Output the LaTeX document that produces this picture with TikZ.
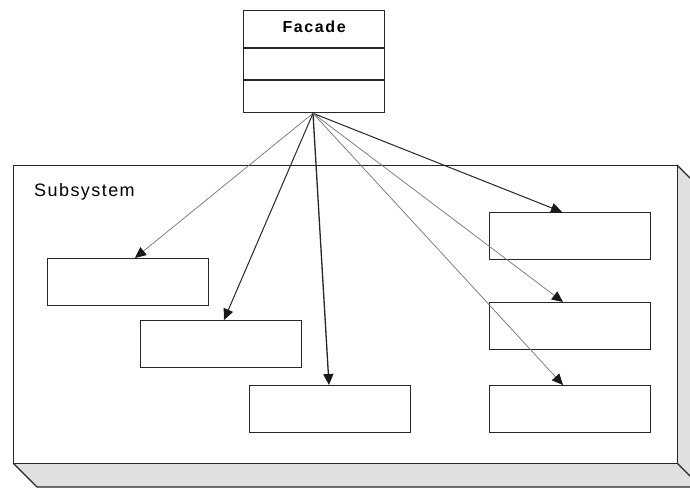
\documentclass[tikz,border=0pt]{standalone}
\usepackage{fontspec}
\setmainfont{Liberation Sans}
\usetikzlibrary{arrows.meta}
\begin{document}
\begin{tikzpicture}[x=1pt,y=-1pt,
  edge/.style={draw=black!85, line width=1.3pt},
  part/.style={edge, minimum width=161pt, minimum height=47pt, anchor=north west, inner sep=0pt},
  link/.style={draw=black!85, line width=1pt,
    -{Triangle[length=11pt,width=10pt,color=black!90]}},
  faint/.style={link, draw=black!55, line width=0.7pt}]
\useasboundingbox (0,0) rectangle (690,489);
\clip (0,0) rectangle (690,489);

% package body: side and bottom faces
\fill[black!12] (677,165) -- (701,189) -- (701,487) -- (677,463) -- cycle;
\fill[black!12] (13,463) -- (37,487) -- (701,487) -- (677,463) -- cycle;
\draw[edge] (13,463) -- (37,487) -- (701,487);
\draw[edge] (677,463) -- (701,487);
\draw[edge] (677,165) -- (701,189);
\node[edge, fill=white, minimum width=664pt, minimum height=298pt,
      anchor=north west, inner sep=0pt] (sub) at (13,165) {};
\node[anchor=west, inner sep=0pt,
      font=\fontsize{18}{20}\selectfont\addfontfeatures{LetterSpace=8}]
  (subname) at (34,192) {Subsystem};

% facade class
\node[edge, minimum width=141pt, minimum height=102pt, anchor=north west,
      inner sep=0pt] (facade) at (243,10) {};
\draw[edge] ([yshift=-38pt]facade.north west) -- ([yshift=-38pt]facade.north east);
\draw[edge] ([yshift=-70pt]facade.north west) -- ([yshift=-70pt]facade.north east);
\node[inner sep=0pt,
      font=\fontsize{16}{18}\selectfont\bfseries\addfontfeatures{LetterSpace=10}]
  (facadename) at ([yshift=-17pt]facade.north) {Facade};
\coordinate (src) at ([xshift=70pt]facade.south west);

% subsystem classes
\node[part] (a) at (47,258) {};
\node[part] (b) at (140,320) {};
\node[part] (c) at (249,385) {};
\node[part] (d) at (489,212) {};
\node[part] (e) at (489,302) {};
\node[part] (f) at (489,385) {};

% facade dependencies
\draw[faint] (src) -- ([xshift=88pt]a.north west);
\draw[link]  (src) -- ([xshift=84pt]b.north west);
\draw[link, line width=1.3pt] (src) -- ([xshift=80pt]c.north west);
\draw[link]  (src) -- ([xshift=73pt]d.north west);
\draw[faint] (src) -- ([xshift=74pt]e.north west);
\draw[faint] (src) -- ([xshift=74pt]f.north west);
\end{tikzpicture}
\end{document}
